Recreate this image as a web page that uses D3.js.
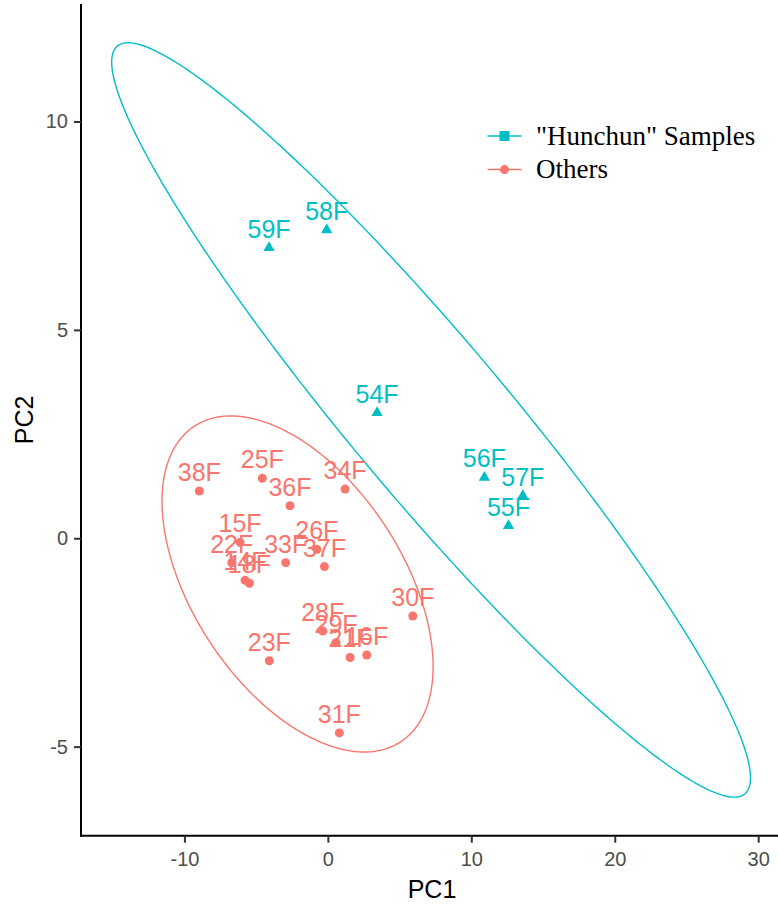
<!DOCTYPE html>
<html>
<head>
<meta charset="utf-8">
<script src="https://cdn.jsdelivr.net/npm/d3@7"></script>
<style>
  html, body { margin: 0; padding: 0; background: #ffffff; }
  svg { display: block; }
</style>
</head>
<body>
<svg id="chart" width="778" height="905"></svg>
<script>
// PCA scores, "Hunchun" samples
const hunchunLabels = ["54F", "55F", "56F", "57F", "58F", "59F"];
const hunchunPC1 = [3.43, 12.59, 10.91, 13.59, -0.08, -4.10];
const hunchunPC2 = [3.01, 0.30, 1.46, 1.02, 7.40, 6.97];

// PCA scores, other samples
const otherLabels = ["38F", "25F", "36F", "34F", "15F", "22F", "14F", "18F", "33F",
                     "26F", "37F", "30F", "28F", "29F", "21F", "16F", "23F", "31F"];
const otherPC1 = [-8.96, -4.57, -2.64, 1.20, -6.12, -6.70, -5.77, -5.47, -2.94,
                  -0.77, -0.24, 5.92, -0.36, 0.57, 1.55, 2.71, -4.08, 0.80];
const otherPC2 = [1.135, 1.44, 0.78, 1.18, -0.10, -0.585, -1.01, -1.08, -0.585,
                  -0.265, -0.68, -1.865, -2.225, -2.505, -2.86, -2.80, -2.94, -4.67];

// Confidence ellipses per group: centre and shape matrix [sxx, sxy, syy]
const groupNames = ["\"Hunchun\" Samples", "Others"];
const ellipseCentre = [[7.197, 2.839], [-2.113, -1.097]];
const ellipseShape = [[495.87, -191.22, 81.93], [89.28, -18.743, 16.254]];

// Axis ticks
const xTicks = [-10, 0, 10, 20, 30];
const yTicks = [-5, 0, 5, 10];

const colHunchun = "#00BFC4";
const colOther = "#F8766D";

const svg = d3.select("#chart");
const panelLeft = 81, panelRight = 778, panelTop = 4, panelBottom = 835.7;

const x = d3.scaleLinear().domain([-17.21, 31.38]).range([panelLeft, panelRight]);
const y = d3.scaleLinear().domain([-7.137, 12.82]).range([panelBottom, panelTop]);

// Ellipses via Cholesky factor of the shape matrix
function ellipsePath(centre, shape) {
  const l11 = Math.sqrt(shape[0]);
  const l21 = shape[1] / l11;
  const l22 = Math.sqrt(shape[2] - l21 * l21);
  const pts = d3.range(0, 361).map(i => {
    const t = i / 360 * 2 * Math.PI;
    const c = Math.cos(t), s = Math.sin(t);
    return [x(centre[0] + l11 * c), y(centre[1] + l21 * c + l22 * s)];
  });
  return d3.line()(pts) + "Z";
}

const plot = svg.append("g");

plot.append("path")
  .attr("d", ellipsePath(ellipseCentre[0], ellipseShape[0]))
  .attr("fill", "none").attr("stroke", colHunchun).attr("stroke-width", 1.4);
plot.append("path")
  .attr("d", ellipsePath(ellipseCentre[1], ellipseShape[1]))
  .attr("fill", "none").attr("stroke", colOther).attr("stroke-width", 1.4);

// Points
const hunchun = hunchunLabels.map((l, i) => ({ label: l, x: hunchunPC1[i], y: hunchunPC2[i] }));
const others = otherLabels.map((l, i) => ({ label: l, x: otherPC1[i], y: otherPC2[i] }));

plot.selectAll("path.tri").data(hunchun).enter().append("path")
  .attr("class", "tri")
  .attr("d", d3.symbol().type(d3.symbolTriangle).size(55))
  .attr("transform", d => `translate(${x(d.x)},${y(d.y)})`)
  .attr("fill", colHunchun);

plot.selectAll("circle.pt").data(others).enter().append("circle")
  .attr("class", "pt")
  .attr("cx", d => x(d.x)).attr("cy", d => y(d.y)).attr("r", 4.5)
  .attr("fill", colOther);

// Point labels, set just above each point
function addLabels(data, colour) {
  plot.selectAll(null).data(data).enter().append("text")
    .attr("x", d => x(d.x))
    .attr("y", d => y(d.y) - 10)
    .attr("text-anchor", "middle")
    .attr("font-family", "'Liberation Sans', Arial, sans-serif")
    .attr("font-size", 25)
    .attr("fill", colour)
    .text(d => d.label);
}
addLabels(hunchun, colHunchun);
addLabels(others, colOther);

// Axes (plain hyphen for negative tick labels)
const axisFont = "'Liberation Sans', Arial, sans-serif";
const plainNum = d => String(d);
const xAxis = svg.append("g").attr("transform", `translate(0,${panelBottom})`)
  .call(d3.axisBottom(x).tickValues(xTicks).tickFormat(plainNum)
    .tickSize(7).tickPadding(9).tickSizeOuter(0));
const yAxis = svg.append("g").attr("transform", `translate(${panelLeft},0)`)
  .call(d3.axisLeft(y).tickValues(yTicks).tickFormat(plainNum)
    .tickSize(7).tickPadding(6).tickSizeOuter(0));

[xAxis, yAxis].forEach(g => {
  g.select(".domain").attr("stroke", "#000").attr("stroke-width", 2);
  g.selectAll(".tick line").attr("stroke", "#333").attr("stroke-width", 2);
  g.selectAll(".tick text").attr("fill", "#4D4D4D")
    .attr("font-family", axisFont).attr("font-size", 20);
});
// extend axis lines to the panel edges
xAxis.select(".domain").attr("d", `M${panelLeft - 1},0H${panelRight}`);
yAxis.select(".domain").attr("d", `M0,${panelTop}V${panelBottom + 1}`);

// Axis titles
svg.append("text")
  .attr("x", 432).attr("y", 898)
  .attr("text-anchor", "middle")
  .attr("font-family", axisFont).attr("font-size", 25).attr("fill", "#000")
  .text("PC1");
svg.append("text")
  .attr("transform", `translate(33,${(panelTop + panelBottom) / 2}) rotate(-90)`)
  .attr("text-anchor", "middle")
  .attr("font-family", axisFont).attr("font-size", 25).attr("fill", "#000")
  .text("PC2");

// Legend
const legendColours = [colHunchun, colOther];
const legend = svg.append("g");
groupNames.forEach((name, i) => {
  const cy = 136 + i * 33.6;
  legend.append("line")
    .attr("x1", 487.5).attr("x2", 521.5).attr("y1", cy).attr("y2", cy)
    .attr("stroke", legendColours[i]).attr("stroke-width", 1.5);
  if (i === 0) {
    legend.append("rect")
      .attr("x", 504.5 - 5).attr("y", cy - 5).attr("width", 10).attr("height", 10)
      .attr("fill", legendColours[i]);
  } else {
    legend.append("circle")
      .attr("cx", 504.5).attr("cy", cy).attr("r", 4.5)
      .attr("fill", legendColours[i]);
  }
  legend.append("text")
    .attr("x", 536).attr("y", cy + 8.5)
    .attr("font-family", "'Liberation Serif', 'Times New Roman', serif")
    .attr("font-size", 27).attr("fill", "#000")
    .text(name);
});
</script>
</body>
</html>
